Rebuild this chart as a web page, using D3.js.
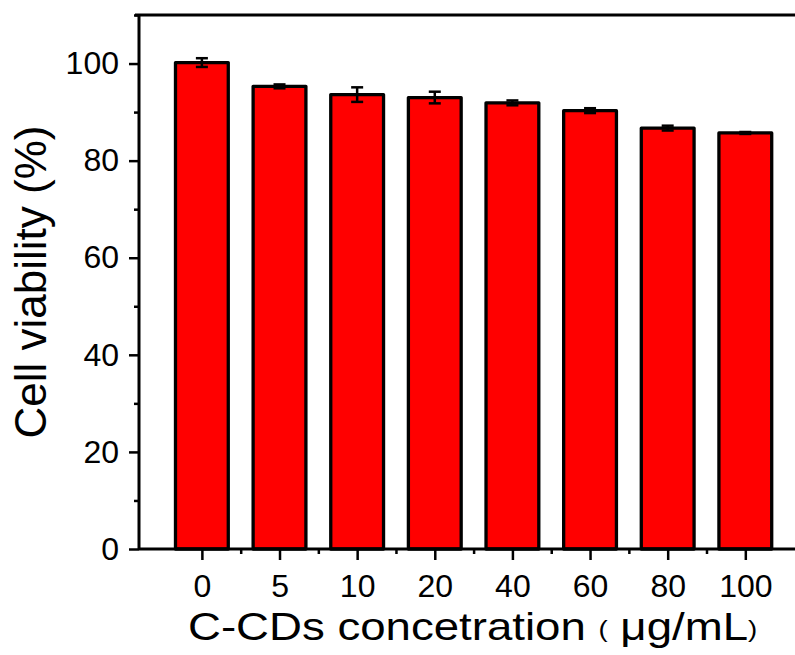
<!DOCTYPE html>
<html>
<head>
<meta charset="utf-8">
<script src="https://cdn.jsdelivr.net/npm/d3@7"></script>
<style>
  html, body { margin: 0; padding: 0; background: #fff; }
  svg { display: block; }
  text { font-family: "Liberation Sans", Arial, sans-serif; fill: #000; }
</style>
</head>
<body>
<svg id="chart" width="795" height="655"></svg>
<script>
const categories = ["0", "5", "10", "20", "40", "60", "80", "100"];
const values = [100.2, 95.3, 93.6, 93.0, 91.9, 90.3, 86.7, 85.7];
const errors = [0.9, 0.4, 1.5, 1.2, 0.5, 0.5, 0.5, 0.2];
const yMajorTicks = [0, 20, 40, 60, 80, 100];
const yMinorTicks = [10, 30, 50, 70, 90, 110];
const xMinorTicks = [0.5, 1.5, 2.5, 3.5, 4.5, 5.5, 6.5];
const yTitle = "Cell viability (%)";
const xTitleMain = "C-CDs concetration";
const xTitleUnit = "μg/mL";

(function () {
const svg = d3.select("#chart");
const pLeft = 139, pRight = 795, pTop = 15, pBottom = 549;

const x = d3.scaleLinear().domain([-0.81, 7.64]).range([pLeft, pRight]);
const y = d3.scaleLinear().domain([0, 110]).range([pBottom, pTop]);
const step = x(1) - x(0);
const barW = step * 0.68;

// bars
svg.append("g").selectAll("rect").data(values).join("rect")
  .attr("x", (d, i) => x(i) - barW / 2)
  .attr("y", d => y(d))
  .attr("width", barW)
  .attr("height", d => y(0) - y(d))
  .attr("fill", "#ff0000")
  .attr("stroke", "#000")
  .attr("stroke-width", 3.3)
  .attr("stroke-linejoin", "round");

// error bars
const eg = svg.append("g").attr("stroke", "#000").attr("stroke-width", 2.5).attr("fill", "none");
values.forEach((v, i) => {
  const cx = x(i), e = errors[i], cw = 6;
  eg.append("line").attr("x1", cx).attr("x2", cx).attr("y1", y(v + e)).attr("y2", y(v - e));
  eg.append("line").attr("x1", cx - cw).attr("x2", cx + cw).attr("y1", y(v + e)).attr("y2", y(v + e));
  eg.append("line").attr("x1", cx - cw).attr("x2", cx + cw).attr("y1", y(v - e)).attr("y2", y(v - e));
});

// Y axis
const yAxis = svg.append("g").attr("transform", `translate(${pLeft},0)`)
  .call(d3.axisLeft(y).tickValues(yMajorTicks).tickSize(10).tickPadding(10).tickFormat(d3.format("d")));
svg.append("g").attr("transform", `translate(${pLeft},0)`)
  .call(d3.axisLeft(y).tickValues(yMinorTicks).tickSize(5).tickFormat(""))
  .call(g => g.select(".domain").remove());

// X axis
const xAxis = svg.append("g").attr("transform", `translate(0,${pBottom})`)
  .call(d3.axisBottom(x).tickValues(d3.range(categories.length)).tickSize(11).tickPadding(14)
    .tickFormat(i => categories[i]));
svg.append("g").attr("transform", `translate(0,${pBottom})`)
  .call(d3.axisBottom(x).tickValues(xMinorTicks).tickSize(5).tickFormat(""))
  .call(g => g.select(".domain").remove());

svg.selectAll(".domain").attr("stroke", "#000").attr("stroke-width", 3);
svg.selectAll(".tick line").attr("stroke", "#000").attr("stroke-width", 2.5);
svg.selectAll(".tick text").attr("font-size", 32).attr("font-family", "Liberation Sans, Arial, sans-serif").attr("fill", "#000");
yAxis.select(".domain").attr("d", `M0,${pBottom}V${pTop}`);
xAxis.select(".domain").attr("d", `M${pLeft},0H${pRight}`);

// top frame line
svg.append("line").attr("x1", pLeft - 4).attr("x2", pRight).attr("y1", pTop).attr("y2", pTop)
  .attr("stroke", "#000").attr("stroke-width", 3);

// Y title
svg.append("text")
  .attr("transform", `translate(46,${(y(0) + y(110)) / 2}) rotate(-90)`)
  .attr("text-anchor", "middle")
  .attr("font-size", 44)
  .text(yTitle);

// X title
const xt = svg.append("text")
  .attr("transform", `translate(188,640) scale(1.2,1)`)
  .attr("font-size", 38);
xt.append("tspan").text(xTitleMain + " ");
xt.append("tspan").attr("font-size", 23).attr("dy", -3).text("(");
xt.append("tspan").attr("font-size", 38).attr("dy", 3).text(" " + xTitleUnit);
xt.append("tspan").attr("font-size", 23).attr("dy", -3).text(")");
})();
</script>
</body>
</html>
